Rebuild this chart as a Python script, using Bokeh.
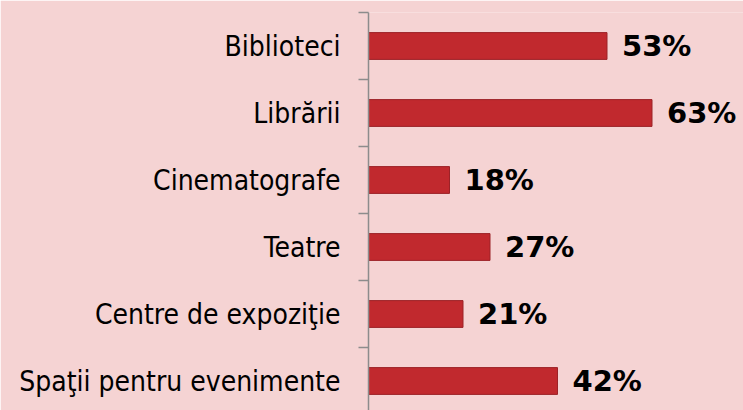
from bokeh.plotting import figure
from bokeh.models import Range1d, FixedTicker, ColumnDataSource
from bokeh.core.properties import value
from bokeh.embed import file_html
from bokeh.resources import INLINE

categories = ["Biblioteci", "Librării", "Cinematografe", "Teatre",
              "Centre de expoziţie", "Spaţii pentru evenimente"]
values = [53, 63, 18, 27, 21, 42]
value_labels = [f"{v}%" for v in values]

n = len(categories)
pos = [n - 1 - i for i in range(n)]
bounds = [k - 0.5 for k in range(n + 1)]

BG = "#F5D3D3"
BAR = "#C1292E"
BAR_EDGE = "#9C2227"
AXIS = "#8C8C8C"

src = ColumnDataSource(dict(pos=pos, val=values, lab=value_labels))

p = figure(width=743, height=410, output_backend="svg", toolbar_location=None,
           x_range=Range1d(0, 375 / 4.5), y_range=Range1d(5.5 - 398 / 67, 5.5),
           x_axis_location=None,
           min_border_left=368, min_border_top=12, min_border_right=0, min_border_bottom=0)
p.background_fill_color = BG
p.border_fill_color = BG
p.outline_line_color = None
p.grid.visible = False

p.hbar(y="pos", right="val", left=0, height=0.4, source=src,
       fill_color=BAR, line_color=BAR_EDGE, line_width=1)
p.text(x="val", y="pos", text="lab", source=src, x_offset=15,
       text_baseline="middle", text_align="left",
       text_font=value("DejaVu Sans"), text_font_style="bold",
       text_font_size="29px", text_color="black")

ax = p.yaxis[0]
ax.ticker = FixedTicker(ticks=pos, minor_ticks=bounds)
ax.major_label_overrides = {k: c for k, c in zip(pos, categories)}
ax.axis_line_color = AXIS
ax.axis_line_width = 1.5
ax.major_tick_line_color = None
ax.major_tick_out = 0
ax.major_tick_in = 0
ax.minor_tick_line_color = AXIS
ax.minor_tick_line_width = 1.5
ax.minor_tick_out = 10
ax.minor_tick_in = 0
ax.major_label_text_font = "DejaVu Sans Condensed"
ax.major_label_text_font_size = "28px"
ax.major_label_text_color = "black"
ax.major_label_standoff = 18

open("out.html", "w").write(file_html(p, INLINE))
